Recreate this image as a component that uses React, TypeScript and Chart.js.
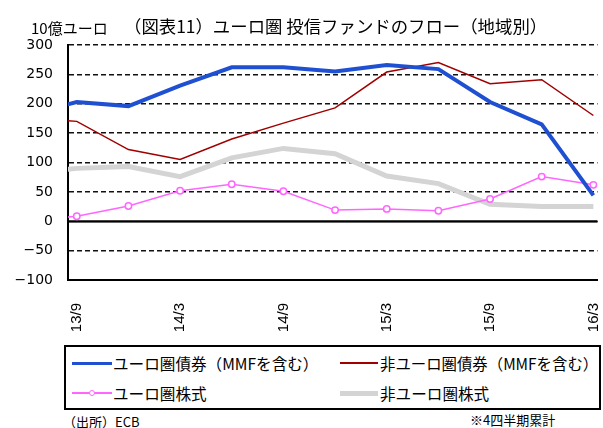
import React, { useEffect, useRef } from "react";
import { Chart, registerables } from "chart.js";

Chart.register(...registerables);

// Quarters (first one lies just left of the visible axis range)
const quarters = ["13/6", "13/9", "13/12", "14/3", "14/6", "14/9", "14/12", "15/3", "15/6", "15/9", "15/12", "16/3"];
const tickLabels = ["13/9", "14/3", "14/9", "15/3", "15/9", "16/3"];

const euroBonds = [180, 203, 196, 231, 262, 262, 255, 266, 259, 203, 165, 44];
const nonEuroBonds = [176, 170, 122, 105, 140, 167, 193, 254, 270, 234, 241, 180];
const euroEquity = [2, 8.5, 26, 52, 63, 51, 19, 21, 18, 38, 76, 62];
const nonEuroEquity = [82, 90, 93, 76, 108, 124, 115, 77, 64, 29, 25, 25];

const seriesNames = [
  "ユーロ圏債券（MMFを含む）",
  "非ユーロ圏債券（MMFを含む）",
  "ユーロ圏株式",
  "非ユーロ圏株式",
];
const seriesColors = ["#1f50d2", "#a00000", "#ff66ff", "#d4d4d4"];

const Y_MIN = -100;
const Y_MAX = 300;
const Y_STEP = 50;

const titleText = "（図表11）ユーロ圏 投信ファンドのフロー（地域別）";
const unitText = "10億ユーロ";
const sourceText = "（出所）ECB";
const noteText = "※4四半期累計";

const JP = "'Noto Sans CJK JP', 'Noto Sans', sans-serif";

export default function App() {
  const ref = useRef<HTMLCanvasElement>(null);

  useEffect(() => {
    const mk = (vals: number[]) => vals.map((v, i) => ({ x: i - 1, y: v }));
    const zeroLine = {
      id: "zeroLine",
      beforeDatasetsDraw(chart: any) {
        const { ctx, chartArea, scales } = chart;
        const y = scales.y.getPixelForValue(0);
        ctx.save();
        ctx.strokeStyle = "#000";
        ctx.lineWidth = 2;
        ctx.setLineDash([]);
        ctx.beginPath();
        ctx.moveTo(chartArea.left, y);
        ctx.lineTo(chartArea.right, y);
        ctx.stroke();
        ctx.restore();
      },
    };
    const clip = { left: 0, right: 6, top: 6, bottom: 6 };
    const chart = new Chart(ref.current as HTMLCanvasElement, {
      type: "line",
      data: {
        datasets: [
          {
            label: seriesNames[0],
            data: mk(euroBonds),
            borderColor: seriesColors[0],
            borderWidth: 4,
            pointRadius: 0,
            tension: 0,
            order: 0,
            clip,
          },
          {
            label: seriesNames[1],
            data: mk(nonEuroBonds),
            borderColor: seriesColors[1],
            borderWidth: 1.5,
            pointRadius: 0,
            tension: 0,
            order: 1,
            clip,
          },
          {
            label: seriesNames[2],
            data: mk(euroEquity),
            borderColor: seriesColors[2],
            borderWidth: 1.5,
            pointRadius: 3.2,
            pointBorderWidth: 1.5,
            pointBackgroundColor: "#fff",
            pointBorderColor: seriesColors[2],
            tension: 0,
            order: 2,
            clip,
          },
          {
            label: seriesNames[3],
            data: mk(nonEuroEquity),
            borderColor: seriesColors[3],
            borderWidth: 5,
            pointRadius: 0,
            tension: 0,
            order: 3,
            clip,
          },
        ] as any,
      },
      options: {
        animation: false,
        responsive: false,
        devicePixelRatio: 1,
        layout: { padding: { top: 45, right: 1, left: 0, bottom: 0 } },
        plugins: {
          legend: { display: false },
          tooltip: { enabled: false },
          title: { display: false },
        },
        scales: {
          x: {
            type: "linear",
            min: -0.17,
            max: 10.08,
            grid: { display: false },
            border: { display: true, color: "#000", width: 2 },
            afterBuildTicks: (s: any) => {
              s.ticks = tickLabels.map((l) => ({ value: quarters.indexOf(l) - 1 }));
            },
            afterFit: (s: any) => {
              s.height = 55;
              s.paddingLeft = 0;
              s.paddingRight = 0;
            },
            ticks: {
              autoSkip: false,
              minRotation: 90,
              maxRotation: 90,
              padding: 15,
              color: "#000",
              font: { family: "'Liberation Sans', Arial, sans-serif", size: 15 },
              callback: (v: any) => quarters[Math.round(Number(v)) + 1] ?? "",
            },
          },
          y: {
            min: Y_MIN,
            max: Y_MAX,
            ticks: {
              stepSize: Y_STEP,
              padding: 15,
              color: "#000",
              font: { family: "'DejaVu Sans', sans-serif", size: 14 },
              callback: (v: any) => String(v).replace("-", "−"),
            },
            grid: { color: "#111", lineWidth: 1.5, drawTicks: false },
            border: {
              display: true,
              color: "#000",
              width: 2,
              dash: (c: any) => (c && c.tick && c.tick.value === 0 ? [] : [5, 3]),
            },
            afterFit: (s: any) => {
              s.width = 68;
              s.paddingTop = 0;
              s.paddingBottom = 0;
            },
          },
        } as any,
      },
      plugins: [zeroLine],
    });
    return () => chart.destroy();
  }, []);

  const text = (t: string, left: number, cy: number, size: number, extra: any = {}) => (
    <div
      style={{
        position: "absolute",
        left,
        top: cy - 12,
        height: 24,
        lineHeight: "24px",
        fontSize: size,
        fontFamily: JP,
        color: "#000",
        whiteSpace: "nowrap",
        ...extra,
      }}
    >
      {t}
    </div>
  );

  const lineSample = (left: number, width: number, cy: number, color: string, thick: number) => (
    <div
      style={{
        position: "absolute",
        left,
        top: cy - thick / 2,
        width,
        height: thick,
        background: color,
      }}
    />
  );

  return (
    <div
      style={{
        position: "absolute",
        left: 0,
        top: 0,
        width: 603,
        height: 428,
        background: "#fff",
        overflow: "hidden",
      }}
    >
      <canvas
        ref={ref}
        width={603}
        height={335}
        style={{ position: "absolute", left: 0, top: 0, width: 603, height: 335 }}
      />
      {text(unitText, 31, 28, 15)}
      {text(titleText, 124, 26, 17.4)}

      <div
        style={{
          position: "absolute",
          left: 64,
          top: 345,
          width: 533,
          height: 61,
          border: "2px solid #000",
        }}
      />
      {lineSample(72, 40, 363, seriesColors[0], 3)}
      {text(seriesNames[0], 113, 363, 15.6)}
      {lineSample(340, 38, 363, seriesColors[1], 1.5)}
      {text(seriesNames[1], 380, 363, 15.4)}
      {lineSample(72, 40, 393, seriesColors[2], 1.5)}
      <div
        style={{
          position: "absolute",
          left: 92 - 3.5,
          top: 393 - 3.5,
          width: 4,
          height: 4,
          borderRadius: "50%",
          border: `1.5px solid ${seriesColors[2]}`,
          background: "#fff",
        }}
      />
      {text(seriesNames[2], 113, 393, 15.6)}
      {lineSample(340, 38, 393, seriesColors[3], 5)}
      {text(seriesNames[3], 380, 393, 15.6)}

      {text(sourceText, 63, 422, 13)}
      {text(noteText, 470, 420, 13)}
    </div>
  );
}
